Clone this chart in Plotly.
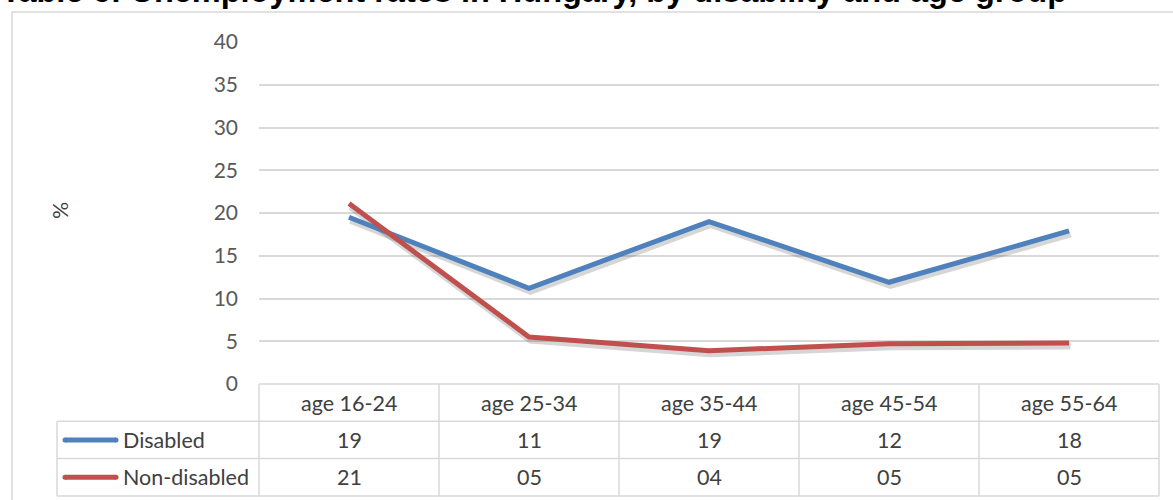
import plotly.graph_objects as go

# ---- data ----
categories = ["age 16-24", "age 25-34", "age 35-44", "age 45-54", "age 55-64"]
series_names = ["Disabled", "Non-disabled"]
disabled = [19.5, 11.2, 19.0, 11.9, 17.9]
non_disabled = [21.1, 5.5, 3.9, 4.7, 4.8]
disabled_labels = ["19", "11", "19", "12", "18"]
non_disabled_labels = ["21", "05", "04", "05", "05"]
y_ticks = [0, 5, 10, 15, 20, 25, 30, 35, 40]
title_text = "Table 6: Unemployment rates in Hungary, by disability and age group"
y_title = "%"

colors = ["#4F81BD", "#C0504D"]
grid_col = "#D9D9D9"
text_col = "#404040"
tick_col = "#595959"
FONT = "Lato"
FS = 21.5

W, H = 1173, 500
ML, MR, MT, MB = 259, 14, 42, 116
PW = W - ML - MR
PH = H - MT - MB


def px(x):
    return (x - ML) / PW


def py(y):
    return (H - MB - y) / PH


n = len(categories)
y_range = [0, 40]
unit_px = PH / (y_range[1] - y_range[0])
cat_px = PW / n
sdx, sdy = 1.5, 3.0  # shadow offset in pixels

fig = go.Figure()
series = [disabled, non_disabled]
# shadows
for vals in series:
    fig.add_trace(go.Scatter(x=categories, y=vals, mode="lines", xaxis="x2", yaxis="y2",
                             line=dict(color="rgba(0,0,0,0.16)", width=7),
                             hoverinfo="skip", showlegend=False))
# main lines
for name, vals, c in zip(series_names, series, colors):
    fig.add_trace(go.Scatter(x=categories, y=vals, name=name, mode="lines", xaxis="x3", yaxis="y3",
                             line=dict(color=c, width=5), showlegend=False))

# invisible base trace so base axes exist
fig.add_trace(go.Scatter(x=categories, y=[None] * n, mode="lines", showlegend=False, hoverinfo="skip"))

fig.update_layout(
    width=W, height=H,
    margin=dict(l=ML, r=MR, t=MT, b=MB, pad=0, autoexpand=False),
    paper_bgcolor="white", plot_bgcolor="white",
    font=dict(family=FONT, color=text_col, size=FS),
    xaxis=dict(type="category", range=[-0.5, n - 0.5], showgrid=False, showticklabels=False,
               zeroline=False, showline=False, fixedrange=True),
    yaxis=dict(range=y_range, tickvals=y_ticks, showgrid=True, gridcolor=grid_col, gridwidth=1.5,
               zeroline=False, showline=False, ticks="", ticklabelstandoff=20,
               tickfont=dict(family=FONT, size=21, color=tick_col), fixedrange=True),
    xaxis2=dict(type="category", overlaying="x", range=[-0.5 - sdx / cat_px, n - 0.5 - sdx / cat_px],
                visible=False, fixedrange=True),
    yaxis2=dict(overlaying="y", range=[y_range[0] + sdy / unit_px, y_range[1] + sdy / unit_px],
                visible=False, fixedrange=True),
    xaxis3=dict(type="category", overlaying="x", range=[-0.5, n - 0.5], visible=False, fixedrange=True),
    yaxis3=dict(overlaying="y", range=y_range, visible=False, fixedrange=True),
    showlegend=False,
)

shapes = []
line_style = dict(color=grid_col, width=1.5)
# outer frame
shapes.append(dict(type="rect", xref="paper", yref="paper", x0=px(12), x1=px(1200), y0=py(12), y1=py(520),
                   line=line_style, layer="below"))
# table geometry
row_h = 37.3
top = H - MB
rows_y = [top, top + row_h, top + 2 * row_h, top + 3 * row_h]
left_x = 57
shapes.append(dict(type="line", xref="paper", yref="paper", x0=0, x1=1, y0=py(rows_y[0]), y1=py(rows_y[0]), line=line_style))
for ry in rows_y[1:]:
    shapes.append(dict(type="line", xref="paper", yref="paper", x0=px(left_x), x1=1, y0=py(ry), y1=py(ry), line=line_style))
for i in range(n + 1):
    shapes.append(dict(type="line", xref="paper", yref="paper", x0=i / n, x1=i / n,
                       y0=py(rows_y[0]), y1=py(rows_y[3]), line=line_style))
shapes.append(dict(type="line", xref="paper", yref="paper", x0=px(left_x), x1=px(left_x),
                   y0=py(rows_y[1]), y1=py(rows_y[3]), line=line_style))
# legend keys
for r, c in enumerate(colors):
    yc = py((rows_y[r + 1] + rows_y[r + 2]) / 2)
    shapes.append(dict(type="line", xref="paper", yref="paper", x0=px(65), x1=px(116), y0=yc, y1=yc,
                       line=dict(color=c, width=5)))
    for ex in (65, 116):
        shapes.append(dict(type="circle", xref="paper", yref="paper",
                           x0=px(ex - 2.5), x1=px(ex + 2.5), y0=yc - 2.5 / PH, y1=yc + 2.5 / PH,
                           fillcolor=c, line=dict(width=0)))

annotations = []
# title
annotations.append(dict(text="<b>" + title_text + "</b>", xref="paper", yref="paper", x=px(-1), y=py(5),
                        xanchor="left", yanchor="bottom", yshift=-6, showarrow=False,
                        font=dict(family="Liberation Sans", size=32.5, color="#000000")))
# y title
annotations.append(dict(text=y_title, xref="paper", yref="paper", x=px(60), y=py(211), textangle=-90,
                        xanchor="center", yanchor="middle",
                        showarrow=False, font=dict(family=FONT, size=FS, color=text_col)))
# header cells
for i, cat in enumerate(categories):
    annotations.append(dict(text=cat, xref="paper", yref="paper", x=(i + 0.5) / n,
                            y=py((rows_y[0] + rows_y[1]) / 2), xanchor="center", yanchor="middle",
                            showarrow=False, font=dict(family=FONT, size=FS, color=text_col)))
# rows
for r, (name, labels) in enumerate(zip(series_names, [disabled_labels, non_disabled_labels])):
    yc = py((rows_y[r + 1] + rows_y[r + 2]) / 2)
    annotations.append(dict(text=name, xref="paper", yref="paper", x=px(121), y=yc, xanchor="left",
                            yanchor="middle", showarrow=False,
                            font=dict(family=FONT, size=FS, color=text_col)))
    for i, lab in enumerate(labels):
        annotations.append(dict(text=lab, xref="paper", yref="paper", x=(i + 0.5) / n, y=yc,
                                xanchor="center", yanchor="middle", showarrow=False,
                                font=dict(family=FONT, size=FS, color=text_col)))

fig.update_layout(shapes=shapes, annotations=annotations)
fig.write_html("out.html", config={"displayModeBar": False},
               post_script="document.body.style.margin='0';")
